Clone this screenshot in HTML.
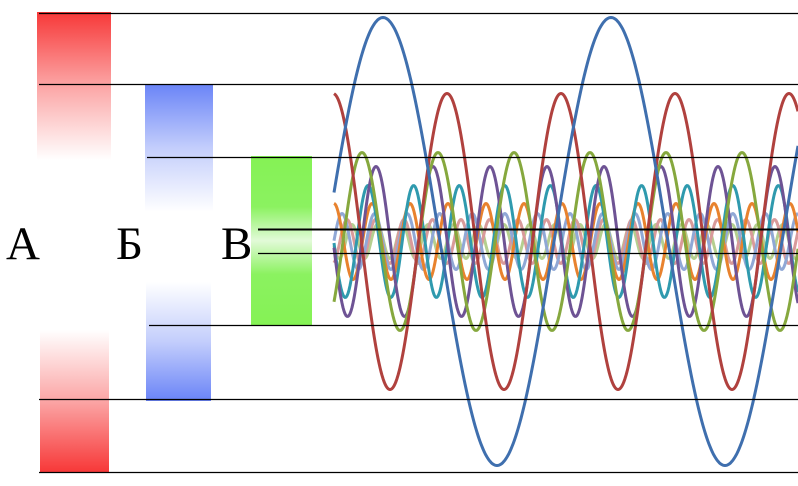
<!DOCTYPE html>
<html><head><meta charset="utf-8"><style>
html,body{margin:0;padding:0;background:#fff;width:798px;height:486px;overflow:hidden}
svg{display:block}
text{font-family:"Liberation Serif",serif;font-size:47px;fill:#000}
</style></head><body>
<svg id="s" width="798" height="486" xmlns="http://www.w3.org/2000/svg">
<defs>
<linearGradient id="rt" x1="0" y1="0" x2="0" y2="1"><stop offset="0" stop-color="#f73838"/><stop offset="0.5" stop-color="#f73838" stop-opacity="0.45"/><stop offset="1" stop-color="#f73838" stop-opacity="0"/></linearGradient>
<linearGradient id="rb" x1="0" y1="1" x2="0" y2="0"><stop offset="0" stop-color="#f73838"/><stop offset="0.5" stop-color="#f73838" stop-opacity="0.45"/><stop offset="1" stop-color="#f73838" stop-opacity="0"/></linearGradient>
<linearGradient id="bt" x1="0" y1="0" x2="0" y2="1"><stop offset="0" stop-color="#6a84f7"/><stop offset="0.5" stop-color="#6a84f7" stop-opacity="0.4"/><stop offset="1" stop-color="#6a84f7" stop-opacity="0"/></linearGradient>
<linearGradient id="bb" x1="0" y1="1" x2="0" y2="0"><stop offset="0" stop-color="#6a84f7"/><stop offset="0.5" stop-color="#6a84f7" stop-opacity="0.4"/><stop offset="1" stop-color="#6a84f7" stop-opacity="0"/></linearGradient>
<linearGradient id="g" x1="0" y1="0" x2="0" y2="1"><stop offset="0" stop-color="#85f255"/><stop offset="0.3" stop-color="#8bf260"/><stop offset="0.5" stop-color="#e2fad8"/><stop offset="0.7" stop-color="#8bf260"/><stop offset="1" stop-color="#85f255"/></linearGradient>
</defs>
<rect x="37" y="12" width="74" height="148" fill="url(#rt)"/>
<rect x="40" y="330" width="69" height="142" fill="url(#rb)"/>
<rect x="145" y="84" width="68" height="128" fill="url(#bt)"/>
<rect x="146" y="282" width="65" height="119" fill="url(#bb)"/>
<rect x="251" y="156" width="61" height="169" fill="url(#g)"/>
<text x="6" y="259">А</text>
<text x="116" y="259">Б</text>
<text x="221" y="259">В</text>
<g id="w" fill="none" stroke-width="3" stroke-linejoin="round"></g>
<g stroke="#000" stroke-width="1.2">
<line x1="39" y1="13.5" x2="798" y2="13.5"/>
<line x1="39" y1="84.5" x2="798" y2="84.5"/>
<line x1="147" y1="157.5" x2="798" y2="157.5"/>
<line x1="258" y1="229.5" x2="798" y2="229.5" stroke-width="2"/>
<line x1="258" y1="253.5" x2="798" y2="253.5"/>
<line x1="149" y1="325.5" x2="798" y2="325.5"/>
<line x1="39" y1="399.5" x2="798" y2="399.5"/>
<line x1="39" y1="472.5" x2="798" y2="472.5"/>
</g>
</svg>
<script>
var P=228,c=241.5,g=document.getElementById('w');
var W=[[9,17,'#b5cf8f',580],[8,22,'#d99a9a',575],[7,28,'#90a8d6',570],[6,38,'#e8822e',600],[5,56,'#2f9aae',596],[4,75,'#6e5394',604],[3,89,'#86a83e',590],[2,148,'#b0413e',447],[1,224,'#3f6fae',383]];
W.forEach(function(w){var n=w[0],a=w[1],p=P/n,d='';
for(var x=334;x<=798;x+=1){var y=c-a*Math.cos(2*Math.PI*(x-w[3])/p);d+=(x==334?'M':'L')+x+' '+y.toFixed(1);}
var e=document.createElementNS('http://www.w3.org/2000/svg','path');e.setAttribute('d',d);e.setAttribute('stroke',w[2]);g.appendChild(e);});
</script>
</body></html>
